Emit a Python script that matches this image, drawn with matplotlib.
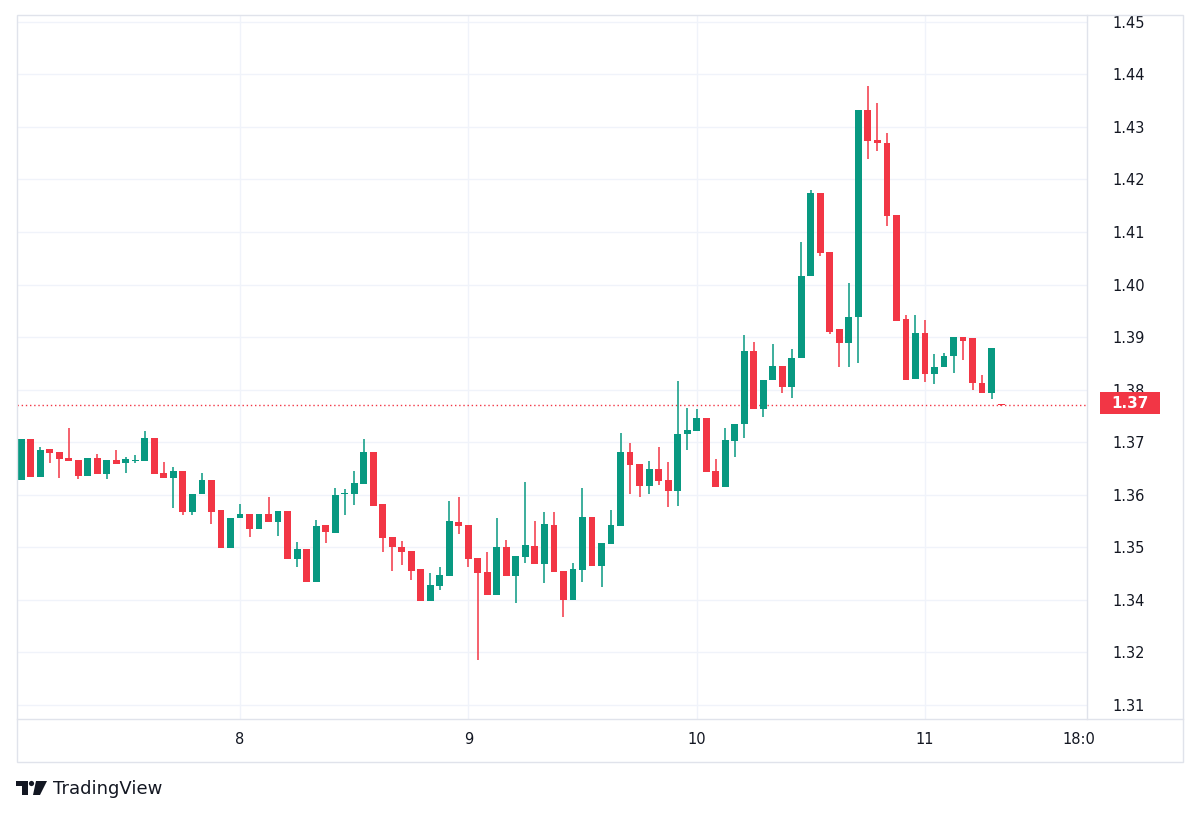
import numpy as np
import matplotlib
matplotlib.use("Agg")
import matplotlib.pyplot as plt
from matplotlib.patches import Rectangle, Polygon, Circle

# ---- data (hourly candles, index = hours since day 7 00:00) ----
opens = [1.3628, 1.3706, 1.3633, 1.3687, 1.3681, 1.3670, 1.3666, 1.3635, 1.3670, 1.3639,
         1.3666, 1.3660, 1.3664, 1.3664, 1.3708, 1.3641, 1.3631, 1.3645, 1.3567, 1.3601,
         1.3628, 1.3571, 1.3498, 1.3555, 1.3563, 1.3534, 1.3563, 1.3548, 1.3569, 1.3477,
         1.3496, 1.3434, 1.3542, 1.3527, 1.3601, 1.3601, 1.3620, 1.3681, 1.3582, 1.3519,
         1.3500, 1.3493, 1.3458, 1.3397, 1.3426, 1.3445, 1.3548, 1.3542, 1.3479, 1.3453,
         1.3409, 1.3500, 1.3445, 1.3481, 1.3502, 1.3468, 1.3542, 1.3454, 1.3399, 1.3456,
         1.3557, 1.3464, 1.3506, 1.3540, 1.3681, 1.3658, 1.3616, 1.3649, 1.3628, 1.3607,
         1.3715, 1.3721, 1.3746, 1.3645, 1.3614, 1.3702, 1.3734, 1.3873, 1.3763, 1.3818,
         1.3845, 1.3805, 1.3860, 1.4016, 1.4174, 1.4062, 1.3915, 1.3888, 1.3938, 1.4332,
         1.4275, 1.4269, 1.4132, 1.3934, 1.3820, 1.3907, 1.3829, 1.3843, 1.3864, 1.3900,
         1.3898, 1.3812, 1.3793, 1.3772]
highs = [1.3706, 1.3706, 1.3690, 1.3687, 1.3681, 1.3727, 1.3666, 1.3670, 1.3677, 1.3666,
         1.3685, 1.3671, 1.3675, 1.3721, 1.3708, 1.3662, 1.3652, 1.3645, 1.3601, 1.3641,
         1.3628, 1.3571, 1.3555, 1.3582, 1.3563, 1.3563, 1.3595, 1.3569, 1.3569, 1.3510,
         1.3496, 1.3552, 1.3542, 1.3612, 1.3611, 1.3645, 1.3706, 1.3681, 1.3582, 1.3519,
         1.3512, 1.3493, 1.3458, 1.3451, 1.3462, 1.3588, 1.3595, 1.3542, 1.3479, 1.3491,
         1.3555, 1.3513, 1.3483, 1.3624, 1.3550, 1.3567, 1.3567, 1.3454, 1.3470, 1.3612,
         1.3557, 1.3508, 1.3571, 1.3717, 1.3698, 1.3658, 1.3664, 1.3690, 1.3662, 1.3816,
         1.3765, 1.3763, 1.3746, 1.3668, 1.3727, 1.3734, 1.3904, 1.3890, 1.3818, 1.3887,
         1.3845, 1.3877, 1.4081, 1.4180, 1.4174, 1.4062, 1.3915, 1.4003, 1.4332, 1.4378,
         1.4345, 1.4288, 1.4132, 1.3942, 1.3942, 1.3932, 1.3867, 1.3869, 1.3900, 1.3900,
         1.3898, 1.3827, 1.3879, 1.3772]
lows = [1.3628, 1.3633, 1.3633, 1.3660, 1.3631, 1.3664, 1.3630, 1.3635, 1.3639, 1.3630,
        1.3658, 1.3641, 1.3660, 1.3664, 1.3639, 1.3631, 1.3574, 1.3561, 1.3561, 1.3601,
        1.3544, 1.3498, 1.3498, 1.3555, 1.3519, 1.3534, 1.3548, 1.3521, 1.3477, 1.3462,
        1.3434, 1.3434, 1.3508, 1.3527, 1.3561, 1.3580, 1.3620, 1.3578, 1.3491, 1.3454,
        1.3466, 1.3437, 1.3397, 1.3397, 1.3418, 1.3445, 1.3525, 1.3462, 1.3285, 1.3409,
        1.3409, 1.3445, 1.3394, 1.3470, 1.3468, 1.3432, 1.3453, 1.3367, 1.3399, 1.3434,
        1.3464, 1.3424, 1.3506, 1.3540, 1.3601, 1.3595, 1.3601, 1.3618, 1.3576, 1.3578,
        1.3685, 1.3721, 1.3643, 1.3614, 1.3614, 1.3671, 1.3708, 1.3763, 1.3748, 1.3818,
        1.3793, 1.3784, 1.3860, 1.4016, 1.4054, 1.3906, 1.3843, 1.3843, 1.3850, 1.4239,
        1.4254, 1.4111, 1.3930, 1.3818, 1.3820, 1.3814, 1.3810, 1.3843, 1.3831, 1.3856,
        1.3799, 1.3793, 1.3782, 1.3769]
closes = [1.3706, 1.3633, 1.3685, 1.3679, 1.3668, 1.3664, 1.3635, 1.3670, 1.3639, 1.3666,
          1.3658, 1.3668, 1.3666, 1.3708, 1.3639, 1.3631, 1.3645, 1.3567, 1.3601, 1.3628,
          1.3567, 1.3498, 1.3555, 1.3563, 1.3534, 1.3563, 1.3548, 1.3569, 1.3477, 1.3496,
          1.3434, 1.3540, 1.3529, 1.3599, 1.3603, 1.3622, 1.3681, 1.3578, 1.3517, 1.3500,
          1.3491, 1.3454, 1.3397, 1.3428, 1.3447, 1.3550, 1.3540, 1.3477, 1.3451, 1.3409,
          1.3500, 1.3445, 1.3483, 1.3504, 1.3468, 1.3544, 1.3453, 1.3399, 1.3458, 1.3557,
          1.3464, 1.3508, 1.3542, 1.3681, 1.3656, 1.3616, 1.3649, 1.3626, 1.3607, 1.3715,
          1.3723, 1.3746, 1.3643, 1.3614, 1.3704, 1.3734, 1.3873, 1.3763, 1.3818, 1.3845,
          1.3805, 1.3860, 1.4016, 1.4174, 1.4060, 1.3909, 1.3888, 1.3938, 1.4332, 1.4273,
          1.4269, 1.4130, 1.3930, 1.3818, 1.3907, 1.3829, 1.3843, 1.3864, 1.3900, 1.3892,
          1.3812, 1.3793, 1.3879, 1.3770]
hours = np.arange(1, len(opens) + 1)          # hourly bar index (day 7 01:00 ...)
last_price = 1.3770
last_label = "1.37"

price_ticks = [1.32, 1.33, 1.34, 1.35, 1.36, 1.37, 1.38, 1.39, 1.40, 1.41, 1.42, 1.43, 1.44, 1.45]
price_labels = ["1.31", "1.32", "1.34", "1.35", "1.36", "1.37", "1.38", "1.39", "1.40",
                "1.41", "1.42", "1.43", "1.44", "1.45"]
day_ticks = [24, 48, 72, 96]
time_ticks = [24, 48, 72, 96, 112.2]
time_labels = ["8", "9", "10", "11", "18:0"]

# ---- style ----
UP = "#089981"
DOWN = "#f23645"
GRID = "#f0f3fa"
BORDER = "#e0e3eb"
TEXT = "#131722"

W, H = 1200, 817
fig = plt.figure(figsize=(W / 100, H / 100), dpi=100)
fig.patch.set_facecolor("white")

# plot area in pixels: x 17..1087, y 15..719
L, R, T, B = 17, 1087, 15, 719
ax = fig.add_axes([L / W, (H - B) / H, (R - L) / W, (B - T) / H])
ax.set_facecolor("white")
ax.set_xlim(0.56, 113.03)
ax.set_ylim(1.3173, 1.4513)
for s in ax.spines.values():
    s.set_visible(False)

for p in price_ticks:
    ax.axhline(p, color=GRID, lw=1, zorder=0)
for d in day_ticks:
    ax.axvline(d, color=GRID, lw=1, zorder=0)

o = np.array(opens); c = np.array(closes); h = np.array(highs); l = np.array(lows)
colors = np.where(c >= o, UP, DOWN)
body_bottom = np.minimum(o, c)
body_height = np.maximum(np.abs(c - o), 0.00022)
ax.vlines(hours, l, h, colors=colors, lw=1.1, zorder=2)
ax.bar(hours, body_height, bottom=body_bottom, width=0.72, color=colors, lw=0, zorder=3)

# current price line
ax.axhline(last_price, color=DOWN, lw=1, ls=(0, (1, 2)), zorder=1)

ax.yaxis.tick_right()
ax.set_yticks(price_ticks)
ax.set_yticklabels(price_labels)
ax.tick_params(axis="y", length=0, pad=18.5, labelsize=10.5, labelcolor=TEXT)
ax.set_xticks(time_ticks)
ax.set_xticklabels(time_labels)
ax.tick_params(axis="x", length=0, pad=9, labelsize=10.5, labelcolor=TEXT)

# ---- overlay in pixel coordinates: frame, price tag, logo ----
ov = fig.add_axes([0, 0, 1, 1], facecolor="none")
ov.set_xlim(0, W)
ov.set_ylim(H, 0)
ov.axis("off")
ov.add_patch(Rectangle((17, 15), 1183 - 17, 762 - 15, fill=False, ec=BORDER, lw=1))
ov.plot([R, R], [15, B], color=BORDER, lw=1)
ov.plot([17, 1183], [B, B], color=BORDER, lw=1)

ov.add_patch(Rectangle((1100, 392), 60, 22, fc=DOWN, ec="none"))
ov.text(1130, 403.5, last_label, color="white", fontsize=11, fontweight="bold",
        ha="center", va="center")

# TradingView logo
ov.add_patch(Polygon([(16, 781), (28, 781), (28, 795), (22, 795), (22, 786), (16, 786)],
                     closed=True, fc=TEXT, ec="none"))
ov.add_patch(Circle((31.5, 783.5), 2.6, fc=TEXT, ec="none"))
ov.add_patch(Polygon([(36, 781), (47, 781), (40, 795), (33, 795)], closed=True, fc=TEXT, ec="none"))
ov.text(53, 789.5, "TradingView", color=TEXT, fontsize=13, ha="left", va="center")

fig.savefig("out.png", dpi=100, facecolor="white")
